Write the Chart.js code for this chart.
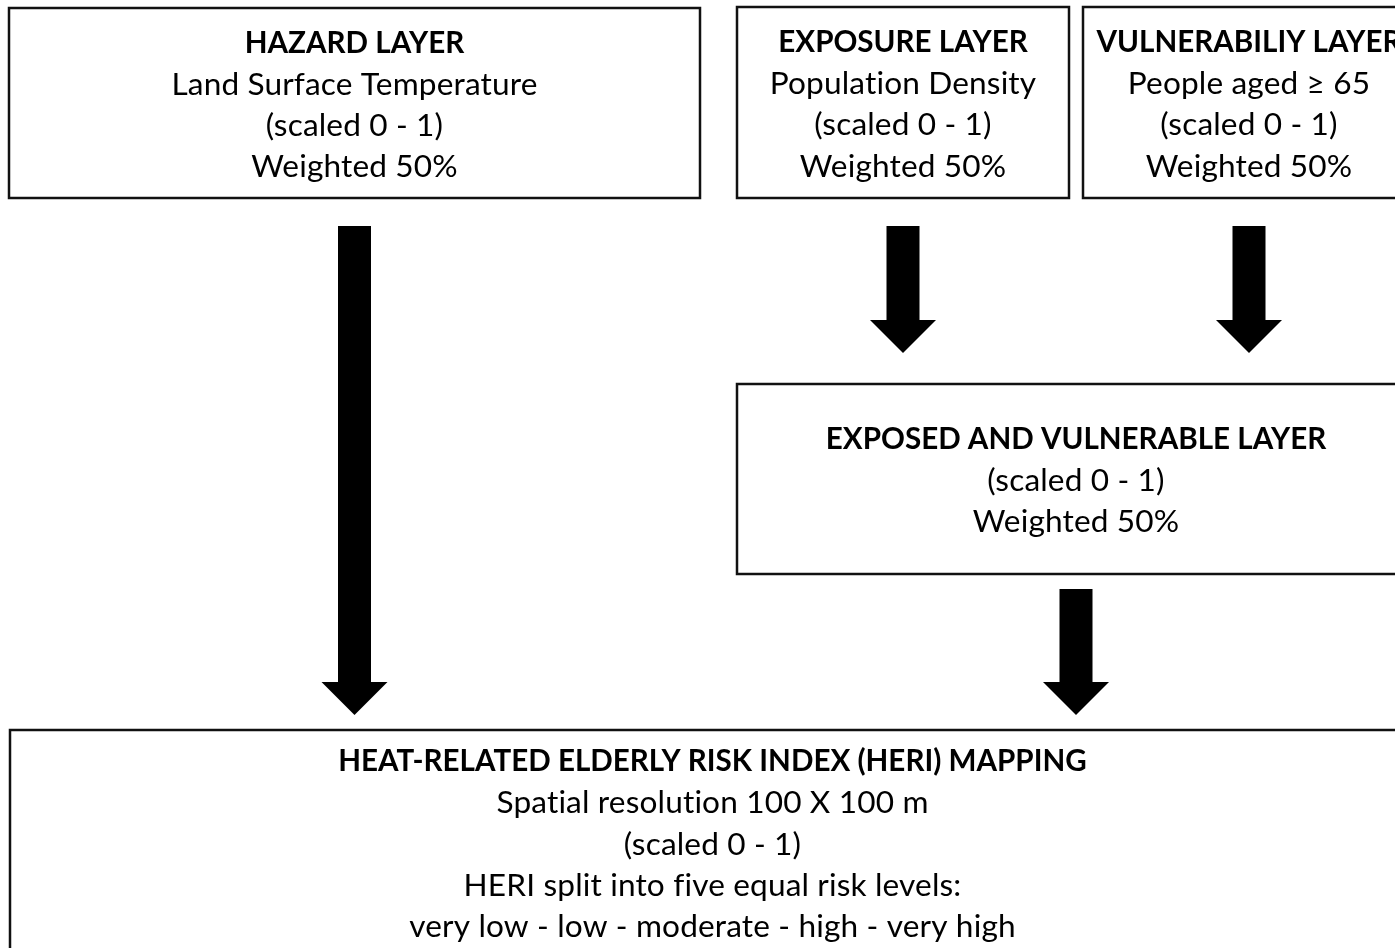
<!DOCTYPE html>
<html>
<head>
<meta charset="utf-8">
<script src="https://cdn.jsdelivr.net/npm/chart.js@4.4.1/dist/chart.umd.min.js"></script>
<style>
  html, body { margin: 0; padding: 0; background: #fff; }
  #wrap { width: 1395px; height: 948px; }
</style>
</head>
<body>
<div id="wrap"><canvas id="flowChart"></canvas></div>
<script>
// flow chart content
const boxTitles = [
  'HAZARD LAYER',
  'EXPOSURE LAYER',
  'VULNERABILIY LAYER',
  'EXPOSED AND VULNERABLE LAYER',
  'HEAT-RELATED ELDERLY RISK INDEX (HERI) MAPPING'
];
const boxLines = [
  ['Land Surface Temperature', '(scaled 0 - 1)', 'Weighted 50%'],
  ['Population Density', '(scaled 0 - 1)', 'Weighted 50%'],
  ['People aged \u2265 65', '(scaled 0 - 1)', 'Weighted 50%'],
  ['(scaled 0 - 1)', 'Weighted 50%'],
  ['Spatial resolution 100 X 100 m', '(scaled 0 - 1)', 'HERI split into five equal risk levels:', 'very low - low - moderate - high - very high']
];
const arrowFrom = [0, 1, 2, 3];
const arrowTo = [4, 3, 3, 4];

// layout, in scale units (x: 0-1395, y: 0-948 from top)
const layout = {
  boxLeft:   [9, 737, 1083, 737, 10],
  boxRight:  [700, 1069, 1415, 1415, 1415],
  boxTop:    [8, 7, 7, 384, 730],
  boxBottom: [198, 198, 198, 574, 955],
  arrowStart: [226, 226, 226, 589],
  arrowEnd:   [715, 353, 353, 715],
  shaft: 33,
  head: 66,
  headLen: 33,
  lineGap: 41.3,
  textShift: 2
};

const fontFamily = 'Lato, "Open Sans", sans-serif';

const flowPlugin = {
  id: 'flow',
  afterDraw(chart) {
    const ctx = chart.ctx;
    const xs = chart.scales.x;
    const ys = chart.scales.y;
    const px = v => xs.getPixelForValue(v);
    const py = v => ys.getPixelForValue(v);

    ctx.save();
    // boxes
    boxTitles.forEach((title, i) => {
      const l = px(layout.boxLeft[i]), r = px(layout.boxRight[i]);
      const t = py(layout.boxTop[i]), b = py(layout.boxBottom[i]);
      ctx.strokeStyle = '#111';
      ctx.lineWidth = 2.5;
      ctx.strokeRect(l, t, r - l, b - t);

      const lines = [title].concat(boxLines[i]);
      const cx = (l + r) / 2;
      const cy = (t + b) / 2 + layout.textShift;
      const startY = cy - (lines.length - 1) * layout.lineGap / 2;
      ctx.fillStyle = '#000';
      ctx.textAlign = 'center';
      ctx.textBaseline = 'middle';
      lines.forEach((txt, k) => {
        ctx.font = k === 0 ? 'bold 29.6px ' + fontFamily : '31.6px ' + fontFamily;
        // non-zero spacing keeps "ti" from turning into a ligature
        ctx.letterSpacing = k === 0 ? '0px' : '0.15px';
        ctx.fillText(txt, cx, startY + k * layout.lineGap);
      });
    });
    ctx.letterSpacing = '0px';

    // arrows
    arrowFrom.forEach((src, i) => {
      const cx = px((layout.boxLeft[src] + layout.boxRight[src]) / 2);
      const y0 = py(layout.arrowStart[i]);
      const y1 = py(layout.arrowEnd[i]);
      const yh = y1 - layout.headLen;
      ctx.fillStyle = '#000';
      ctx.beginPath();
      ctx.moveTo(cx - layout.shaft / 2, y0);
      ctx.lineTo(cx + layout.shaft / 2, y0);
      ctx.lineTo(cx + layout.shaft / 2, yh);
      ctx.lineTo(cx + layout.head / 2, yh);
      ctx.lineTo(cx, y1);
      ctx.lineTo(cx - layout.head / 2, yh);
      ctx.lineTo(cx - layout.shaft / 2, yh);
      ctx.closePath();
      ctx.fill();
    });
    ctx.restore();
  }
};

new Chart(document.getElementById('flowChart').getContext('2d'), {
  type: 'scatter',
  data: { datasets: [{ data: [], pointRadius: 0 }] },
  options: {
    responsive: true,
    maintainAspectRatio: false,
    animation: false,
    layout: { padding: 0 },
    plugins: { legend: { display: false }, tooltip: { enabled: false } },
    scales: {
      x: { type: 'linear', min: 0, max: 1395, display: false },
      y: { type: 'linear', min: 0, max: 948, reverse: true, display: false }
    }
  },
  plugins: [flowPlugin]
});
</script>
</body>
</html>
